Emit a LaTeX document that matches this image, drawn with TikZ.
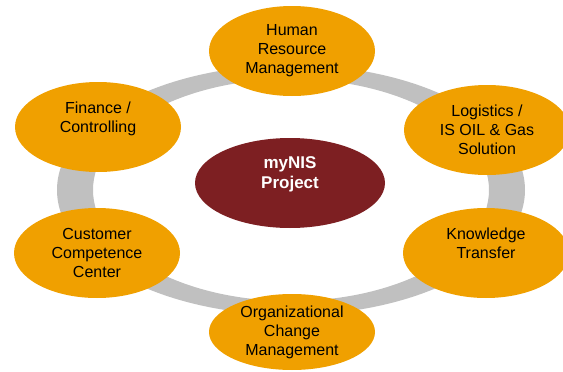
\documentclass[tikz,border=0pt]{standalone}
\usepackage{fontspec}
\setmainfont{Liberation Sans}
\usepackage{xcolor}
\usepackage{tikz}
\usetikzlibrary{shapes.geometric}

\begin{document}
\begin{tikzpicture}[x=1pt, y=-1pt,
  area/.style={ellipse, fill=laranja, text=black, align=center,
    minimum width=166pt, minimum height=90pt, inner sep=0pt,
    font=\fontsize{16}{19}\selectfont},
  centro/.style={ellipse, fill=vinho, text=white, align=center,
    minimum width=190pt, minimum height=90pt, inner sep=0pt,
    font=\fontsize{17}{20}\selectfont\bfseries}]
% --- CORES HEX ---
\definecolor{laranja}{HTML}{F0A000}
\definecolor{vinho}{HTML}{7D1F22}
\definecolor{anel}{HTML}{C0C0C0}

\useasboundingbox (0,0) rectangle (563,372);

% LAYER 1: Anel cinza
\fill[anel, even odd rule] (291,190) ellipse [x radius=234pt, y radius=125pt]
  (291,190) ellipse [x radius=198pt, y radius=111pt];

% LAYER 2: Projeto central
\node[centro] (projeto) at (290,183) {myNIS\\Project\\\mbox{}};

% LAYER 3: Areas em volta
\node[area] (rh) at (292,51) {Human\\Resource\\Management};
\node[area] (financas) at (98,127) {Finance /\\Controlling\\\mbox{}};
\node[area] (logistica) at (487,130) {Logistics /\\IS OIL \& Gas\\Solution};
\node[area] (cliente) at (97,253) {Customer\\Competence\\Center};
\node[area] (conhecimento) at (486,253) {Knowledge\\Transfer\\\mbox{}};
\node[area, minimum height=76pt] (mudanca) at (292,332) {Organizational\\Change\\Management};
\end{tikzpicture}
\end{document}
